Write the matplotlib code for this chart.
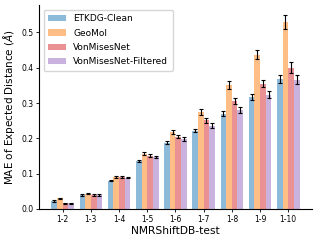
import matplotlib
matplotlib.use("Agg")
import matplotlib.pyplot as plt
import numpy as np

groups = ["1-2", "1-3", "1-4", "1-5", "1-6", "1-7", "1-8", "1-9", "1-10"]
methods = ["ETKDG-Clean", "GeoMol", "VonMisesNet", "VonMisesNet-Filtered"]

etkdg = [0.022, 0.039, 0.080, 0.135, 0.188, 0.222, 0.270, 0.317, 0.367]
geomol = [0.030, 0.043, 0.091, 0.157, 0.218, 0.274, 0.351, 0.437, 0.530]
vonmises = [0.016, 0.039, 0.090, 0.151, 0.205, 0.251, 0.305, 0.355, 0.400]
filtered = [0.016, 0.039, 0.089, 0.147, 0.198, 0.236, 0.281, 0.323, 0.366]

etkdg_err = [0.002, 0.002, 0.002, 0.003, 0.004, 0.005, 0.007, 0.008, 0.011]
geomol_err = [0.002, 0.002, 0.003, 0.005, 0.006, 0.008, 0.010, 0.013, 0.020]
vonmises_err = [0.002, 0.002, 0.002, 0.004, 0.005, 0.007, 0.009, 0.011, 0.015]
filtered_err = [0.002, 0.002, 0.002, 0.004, 0.006, 0.007, 0.008, 0.010, 0.013]

values = [etkdg, geomol, vonmises, filtered]
errors = [etkdg_err, geomol_err, vonmises_err, filtered_err]
colors = ["tab:blue", "tab:orange", "tab:red", "tab:purple"]

fig = plt.figure(figsize=(3.17, 2.41), dpi=100)
ax = fig.add_axes([0.123, 0.133, 0.861, 0.846])

x = np.arange(len(groups))
width = 0.2
for i, (name, vals, err, c) in enumerate(zip(methods, values, errors, colors)):
    ax.bar(x + (i - 1.5) * width, vals, width, yerr=err, color=c, alpha=0.5,
           label=name, error_kw=dict(ecolor="black", elinewidth=0.8, capsize=1.5, capthick=0.8))

ax.set_xticks(x)
ax.set_xticklabels(groups, fontsize=5.5)
ax.tick_params(axis="y", labelsize=5.5)
ax.tick_params(length=2, width=0.6, pad=2)
ax.set_yticks([0.0, 0.1, 0.2, 0.3, 0.4, 0.5])
ax.set_xlabel("NMRShiftDB-test", fontsize=7.7, labelpad=2)
ax.set_ylabel(r"MAE of Expected Distance ($\AA$)", fontsize=7.5, labelpad=3)
ax.spines["top"].set_visible(False)
ax.spines["right"].set_visible(False)
ax.legend(loc="upper left", fontsize=6.5, handlelength=2.0, borderpad=0.5,
          labelspacing=0.6, bbox_to_anchor=(0.0, 1.0))

fig.savefig("out.png", dpi=100)
